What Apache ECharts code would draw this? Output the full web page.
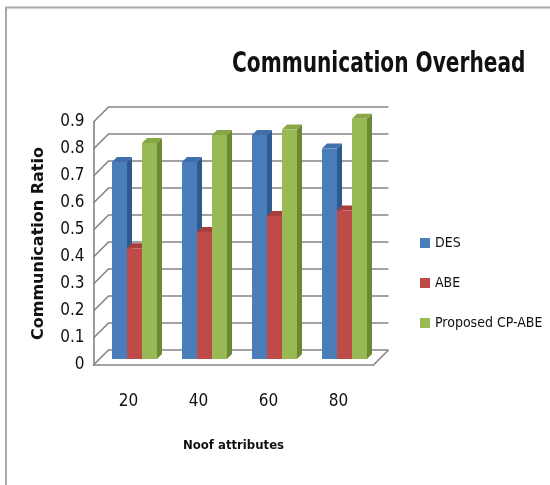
<!DOCTYPE html>
<html>
<head>
<meta charset="utf-8">
<script src="https://cdn.jsdelivr.net/npm/echarts@6/dist/echarts.min.js"></script>
<style>html,body{margin:0;padding:0;background:#fff}#chart{width:550px;height:485px}</style>
</head>
<body>
<div id="chart"></div>
<script>
const categories = ['20', '40', '60', '80'];
const seriesNames = ['DES', 'ABE', 'Proposed CP-ABE'];
const desValues = [0.73, 0.73, 0.83, 0.78];
const abeValues = [0.41, 0.47, 0.53, 0.55];
const cpabeValues = [0.80, 0.83, 0.85, 0.89];
const yTicks = [0, 0.1, 0.2, 0.3, 0.4, 0.5, 0.6, 0.7, 0.8, 0.9];

const WALL_DEPTH = 15;   // px depth from front plane to back wall
const BAR_SHIFT = 6;     // px depth from front plane to bar plane
const BAR_DEPTH = 5;     // visible depth of each bar
const NARROW = 'DejaVu Sans Condensed, sans-serif';

const palette = [
  {front: '#4A7EBB', side: '#2E5B8F', top: '#3F70AC'},
  {front: '#BE4B48', side: '#8A2E2C', top: '#A83F3C'},
  {front: '#98B954', side: '#6B8933', top: '#88A847'}
];

function wallRenderer(params, api) {
  const v = api.value(1);
  const p = api.coord([0, v]);
  const bw = api.size([1, 0])[0];
  const left = p[0] - bw / 2;
  const right = left + categories.length * bw;
  const D = WALL_DEPTH;
  const children = [{
    type: 'polyline',
    shape: {points: [[left, p[1]], [left + D, p[1] - D], [right + D, p[1] - D]]},
    style: {stroke: '#858585', lineWidth: 1.6, fill: null}
  }];
  if (v === 0) {
    children.push({
      type: 'line',
      shape: {x1: right, y1: p[1], x2: right + D, y2: p[1] - D},
      style: {stroke: '#858585', lineWidth: 1.6}
    });
  }
  return {type: 'group', children: children};
}

function barRenderer(slot) {
  const c = palette[slot];
  return function (params, api) {
    const idx = api.value(0);
    const v = api.value(1);
    const topPt = api.coord([idx, v]);
    const basePt = api.coord([idx, 0]);
    const bw = api.size([1, 0])[0];
    const barW = bw * 15 / 70;
    const x0 = topPt[0] - 1.5 * barW + slot * barW + BAR_SHIFT;
    const x1 = x0 + barW;
    const yt = topPt[1] - BAR_SHIFT;
    const yb = basePt[1] - BAR_SHIFT;
    const d = BAR_DEPTH;
    return {
      type: 'group',
      children: [
        {type: 'polygon', shape: {points: [[x1, yt], [x1 + d, yt - d], [x1 + d, yb - d], [x1, yb]]}, style: {fill: c.side}},
        {type: 'polygon', shape: {points: [[x0, yt], [x1, yt], [x1 + d, yt - d], [x0 + d, yt - d]]}, style: {fill: c.top}},
        {type: 'rect', shape: {x: x0, y: yt, width: barW, height: yb - yt}, style: {fill: c.front}}
      ]
    };
  };
}

const valueSets = [desValues, abeValues, cpabeValues];

const chart = echarts.init(document.getElementById('chart'), null, {renderer: 'canvas'});
chart.setOption({
  animation: false,
  backgroundColor: '#ffffff',
  graphic: [{
    type: 'rect', silent: true,
    shape: {x: 6, y: 7.5, width: 600, height: 520},
    style: {fill: null, stroke: '#aaaaaa', lineWidth: 2}
  }, {
    type: 'text', silent: true,
    x: 232, y: 51, scaleX: 0.80, scaleY: 1,
    style: {text: 'Communication Overhead', font: 'bold 28px DejaVu Sans Condensed, sans-serif', fill: '#111'}
  }],
  legend: {
    data: seriesNames,
    orient: 'vertical',
    left: 415, top: 230,
    itemWidth: 10, itemHeight: 10, itemGap: 24,
    icon: 'rect',
    textStyle: {fontFamily: NARROW, fontSize: 14, lineHeight: 16, color: '#111', padding: [0, 0, 0, 0]}
  },
  grid: {left: 93.5, width: 280, top: 122, bottom: 120},
  xAxis: {
    type: 'category',
    data: categories,
    name: 'Noof attributes',
    nameLocation: 'middle',
    nameGap: 74,
    nameTextStyle: {fontFamily: NARROW, fontWeight: 'bold', fontSize: 13, color: '#111'},
    axisLine: {show: true, lineStyle: {color: '#858585', width: 1.6}},
    axisTick: {show: false},
    axisLabel: {margin: 28, fontFamily: NARROW, fontSize: 17, color: '#111'},
    splitLine: {show: false}
  },
  yAxis: {
    type: 'value',
    min: 0, max: 0.9, interval: 0.1,
    name: 'Communication Ratio',
    nameLocation: 'middle',
    nameRotate: 90,
    nameGap: 47,
    nameTextStyle: {fontFamily: 'DejaVu Sans, sans-serif', fontWeight: 'bold', fontSize: 16, color: '#111'},
    axisLine: {show: true, lineStyle: {color: '#858585', width: 1.6}},
    axisTick: {show: false},
    axisLabel: {
      margin: 9,
      fontFamily: NARROW, fontSize: 17, color: '#111',
      formatter: function (v) { return v === 0 ? '0' : v.toFixed(1); }
    },
    splitLine: {show: false}
  },
  series: [
    {
      type: 'custom', name: 'wall', silent: true, z: 1,
      renderItem: wallRenderer,
      data: yTicks.map(function (t) { return [0, t]; })
    }
  ].concat(seriesNames.map(function (name, i) {
    return {
      type: 'custom', name: name, z: 2 + i,
      itemStyle: {color: palette[i].front},
      renderItem: barRenderer(i),
      encode: {x: 0, y: 1},
      data: valueSets[i].map(function (v, k) { return [k, v]; })
    };
  }))
});
</script>
</body>
</html>
